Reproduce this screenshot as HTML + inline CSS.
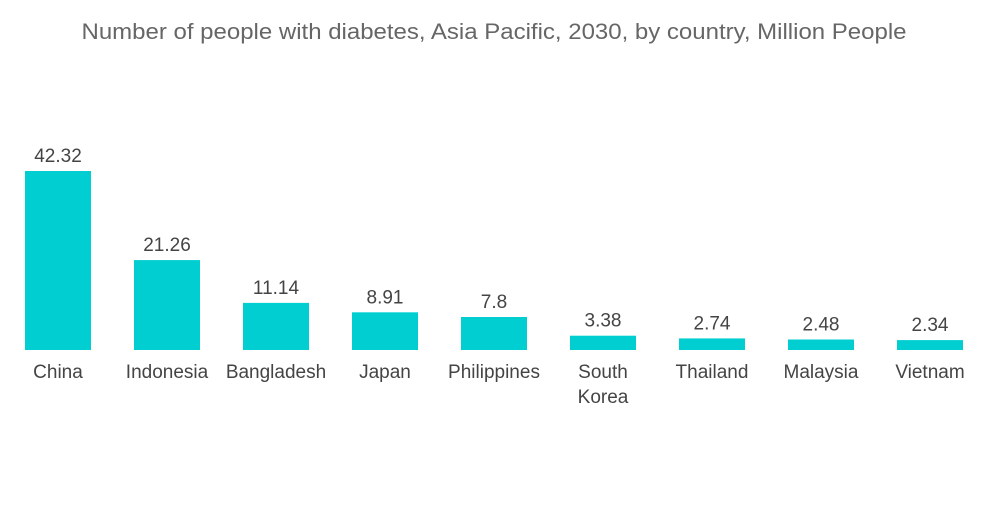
<!DOCTYPE html>
<html><head><meta charset="utf-8"><style>
body{margin:0;background:#fff;width:1000px;height:504px;overflow:hidden;font-family:"Liberation Sans",sans-serif}
</style></head><body>
<svg id="chart" width="1000" height="504">
<text x="494" y="39" text-anchor="middle" font-size="22" textLength="825" lengthAdjust="spacingAndGlyphs" fill="#666">Number of people with diabetes, Asia Pacific, 2030, by country, Million People</text>
<g id="bars"></g>
</svg>
<script>
const categories=[["China"],["Indonesia"],["Bangladesh"],["Japan"],["Philippines"],["South","Korea"],["Thailand"],["Malaysia"],["Vietnam"]];
const values=[42.32,21.26,11.14,8.91,7.8,3.38,2.74,2.48,2.34];
const labels=["42.32","21.26","11.14","8.91","7.8","3.38","2.74","2.48","2.34"];
const ns="http://www.w3.org/2000/svg";
const baseY=350, scale=179/42.32, x0=58, step=109, bw=66;
const xS=i=>x0+i*step, yS=v=>baseY-v*scale;
const g=document.getElementById('bars');
values.forEach((v,i)=>{
 const r=document.createElementNS(ns,'rect');
 r.setAttribute('x',xS(i)-bw/2);r.setAttribute('y',yS(v));
 r.setAttribute('width',bw);r.setAttribute('height',baseY-yS(v));
 r.setAttribute('fill','#00CED1');
 
 
 g.appendChild(r);
 const t=document.createElementNS(ns,'text');
 t.setAttribute('x',xS(i));t.setAttribute('y',yS(v)-9);
 t.setAttribute('text-anchor','middle');t.setAttribute('font-size','19');t.setAttribute('fill','#444');
 t.textContent=labels[i];
 
 
 g.appendChild(t);
 categories[i].forEach((line,j)=>{
  const c=document.createElementNS(ns,'text');
  c.setAttribute('x',xS(i));c.setAttribute('y',378+j*25);
  c.setAttribute('text-anchor','middle');c.setAttribute('font-size','19');c.setAttribute('fill','#444');
  c.textContent=line;
  
  
  g.appendChild(c);
 });
});
</script>
</body></html>
